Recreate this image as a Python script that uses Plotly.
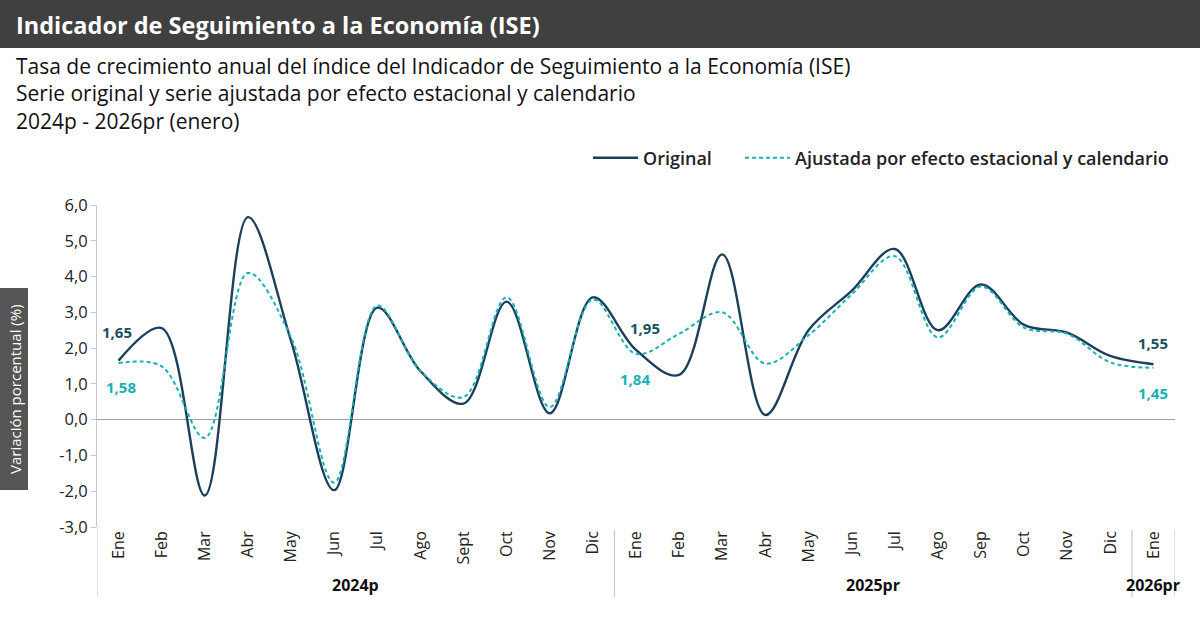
import plotly.graph_objects as go

months = ["Ene", "Feb", "Mar", "Abr", "May", "Jun", "Jul", "Ago", "Sept", "Oct", "Nov", "Dic",
          "Ene", "Feb", "Mar", "Abr", "May", "Jun", "Jul", "Ago", "Sep", "Oct", "Nov", "Dic",
          "Ene"]
years = ["2024p", "2025pr", "2026pr"]
year_counts = [12, 12, 1]

original = [1.65, 2.56, -2.12, 5.66, 2.2, -1.97, 3.13, 1.36, 0.45, 3.3, 0.18, 3.42,
            1.95, 1.25, 4.62, 0.13, 2.5, 3.6, 4.77, 2.5, 3.78, 2.65, 2.43, 1.78,
            1.55]
ajustada = [1.58, 1.49, -0.51, 4.1, 2.3, -1.76, 3.19, 1.36, 0.63, 3.42, 0.35, 3.36,
            1.84, 2.4, 3.0, 1.57, 2.36, 3.5, 4.57, 2.3, 3.72, 2.57, 2.4, 1.6,
            1.45]

y_ticks = [6, 5, 4, 3, 2, 1, 0, -1, -2, -3]
y_tick_labels = ["6,0", "5,0", "4,0", "3,0", "2,0", "1,0", "0,0", "-1,0", "-2,0", "-3,0"]

NAVY = "#1c3f5c"
TEAL = "#19b1b4"
LBL_DARK = "#1b5160"
FONT = "Open Sans"

x = list(range(len(months)))

# plot area pixel geometry
L, R, T, B = 97, 25, 205, 98
H = 625 - T - B
W = 1200 - L - R

def py(p):  # pixel y -> paper y
    return (625 - B - p) / H

def px(p):  # pixel x -> paper x
    return (p - L) / W

fig = go.Figure()
fig.add_trace(go.Scatter(x=x, y=original, mode="lines", name="Original", legend="legend",
                         line=dict(color=NAVY, width=2.4, shape="spline", smoothing=1.0)))
fig.add_trace(go.Scatter(x=x, y=ajustada, mode="lines", legend="legend2",
                         name="Ajustada por efecto estacional y calendario",
                         line=dict(color=TEAL, width=2, dash="4px,3px", shape="spline", smoothing=1.0)))

shapes = []
annotations = []

# title bar
shapes.append(dict(type="rect", xref="paper", yref="paper", x0=px(0), x1=px(1200),
                   y0=py(48), y1=py(0), fillcolor="#404040", line=dict(width=0), layer="below"))
annotations.append(dict(text="<b>Indicador de Seguimiento a la Economía (ISE)</b>",
                        xref="paper", yref="paper", x=px(14), y=py(25), xanchor="left", yanchor="middle",
                        showarrow=False, font=dict(family=FONT, size=23.5, color="white")))
subs = ["Tasa de crecimiento anual del índice del Indicador de Seguimiento a la Economía (ISE)",
        "Serie original y serie ajustada por efecto estacional y calendario",
        "2024p - 2026pr (enero)"]
annotations.append(dict(text="<br>".join(subs), xref="paper", yref="paper", x=px(14), y=py(93),
                        xanchor="left", yanchor="middle", align="left", showarrow=False,
                        font=dict(family=FONT, size=21, color="#111111")))

# y axis title box
shapes.append(dict(type="rect", xref="paper", yref="paper", x0=px(0), x1=px(28),
                   y0=py(490), y1=py(288), fillcolor="#555555", line=dict(width=0)))
annotations.append(dict(text="Variación porcentual (%)", xref="paper", yref="paper",
                        x=px(15), y=py(389), textangle=-90, showarrow=False,
                        xanchor="center", yanchor="middle",
                        font=dict(family=FONT, size=15, color="white")))

# group separators and year labels
start = -0.5
bounds = [start]
for c in year_counts:
    start += c
    bounds.append(start)
for i, b in enumerate(bounds):
    y0 = py(597)
    y1 = 0 if i == 0 else py(530)
    shapes.append(dict(type="line", xref="x", yref="paper", x0=b, x1=b, y0=y0, y1=y1,
                       line=dict(color="#c8c8c8", width=1.2)))
for i, yname in enumerate(years):
    cx = (bounds[i] + bounds[i + 1]) / 2
    annotations.append(dict(text="<b>" + yname + "</b>", xref="x", yref="paper", x=cx, y=py(585),
                            showarrow=False, xanchor="center", yanchor="middle",
                            font=dict(family=FONT, size=16, color="#111111")))

# data labels
def fmt(v):
    return f"{v:.2f}".replace(".", ",")

lbls = [
    (0, original[0], LBL_DARK, -2, 29),
    (0, ajustada[0], TEAL, 2, -24),
    (12, original[12], LBL_DARK, 9, 22),
    (12, ajustada[12], TEAL, -1, -25),
    (24, original[24], LBL_DARK, 0, 21),
    (24, ajustada[24], TEAL, 0, -25),
]
for xi, v, col, xs, ys in lbls:
    annotations.append(dict(text="<b>" + fmt(v) + "</b>", x=xi, y=v, xref="x", yref="y",
                            showarrow=False, xshift=xs, yshift=ys,
                            font=dict(family=FONT, size=15, color=col)))

legend_font = dict(family=FONT, size=18, color="#222222", weight=600)
fig.update_layout(
    width=1200, height=625,
    margin=dict(l=L, r=R, t=T, b=B),
    paper_bgcolor="white", plot_bgcolor="white",
    font=dict(family=FONT, color="#222222"),
    showlegend=True,
    legend=dict(orientation="h", x=px(588), xanchor="left", y=py(158), yanchor="middle",
                font=legend_font, bgcolor="rgba(0,0,0,0)", itemwidth=45),
    legend2=dict(orientation="h", x=px(740), xanchor="left", y=py(158), yanchor="middle",
                 font=legend_font, bgcolor="rgba(0,0,0,0)", itemwidth=45),
    xaxis=dict(range=[-0.5, len(months) - 0.5], tickmode="array", tickvals=x, ticktext=months,
               tickangle=-90, showgrid=False, zeroline=False, showline=False, ticks="",
               tickfont=dict(family=FONT, size=16, color="#222222")),
    yaxis=dict(range=[-3, 6], tickmode="array", tickvals=y_ticks, ticktext=y_tick_labels,
               showgrid=False, zeroline=True, zerolinecolor="#a0a0a0", zerolinewidth=1.2,
               showline=True, linecolor="#c8c8c8", linewidth=1.2,
               ticks="outside", ticklen=5, tickcolor="#c8c8c8",
               tickfont=dict(family=FONT, size=16.5, color="#222222")),
    shapes=shapes, annotations=annotations,
)

fig.write_html("out.html", config={"displayModeBar": False},
               post_script="document.body.style.margin='0px';document.body.style.padding='0px';")
